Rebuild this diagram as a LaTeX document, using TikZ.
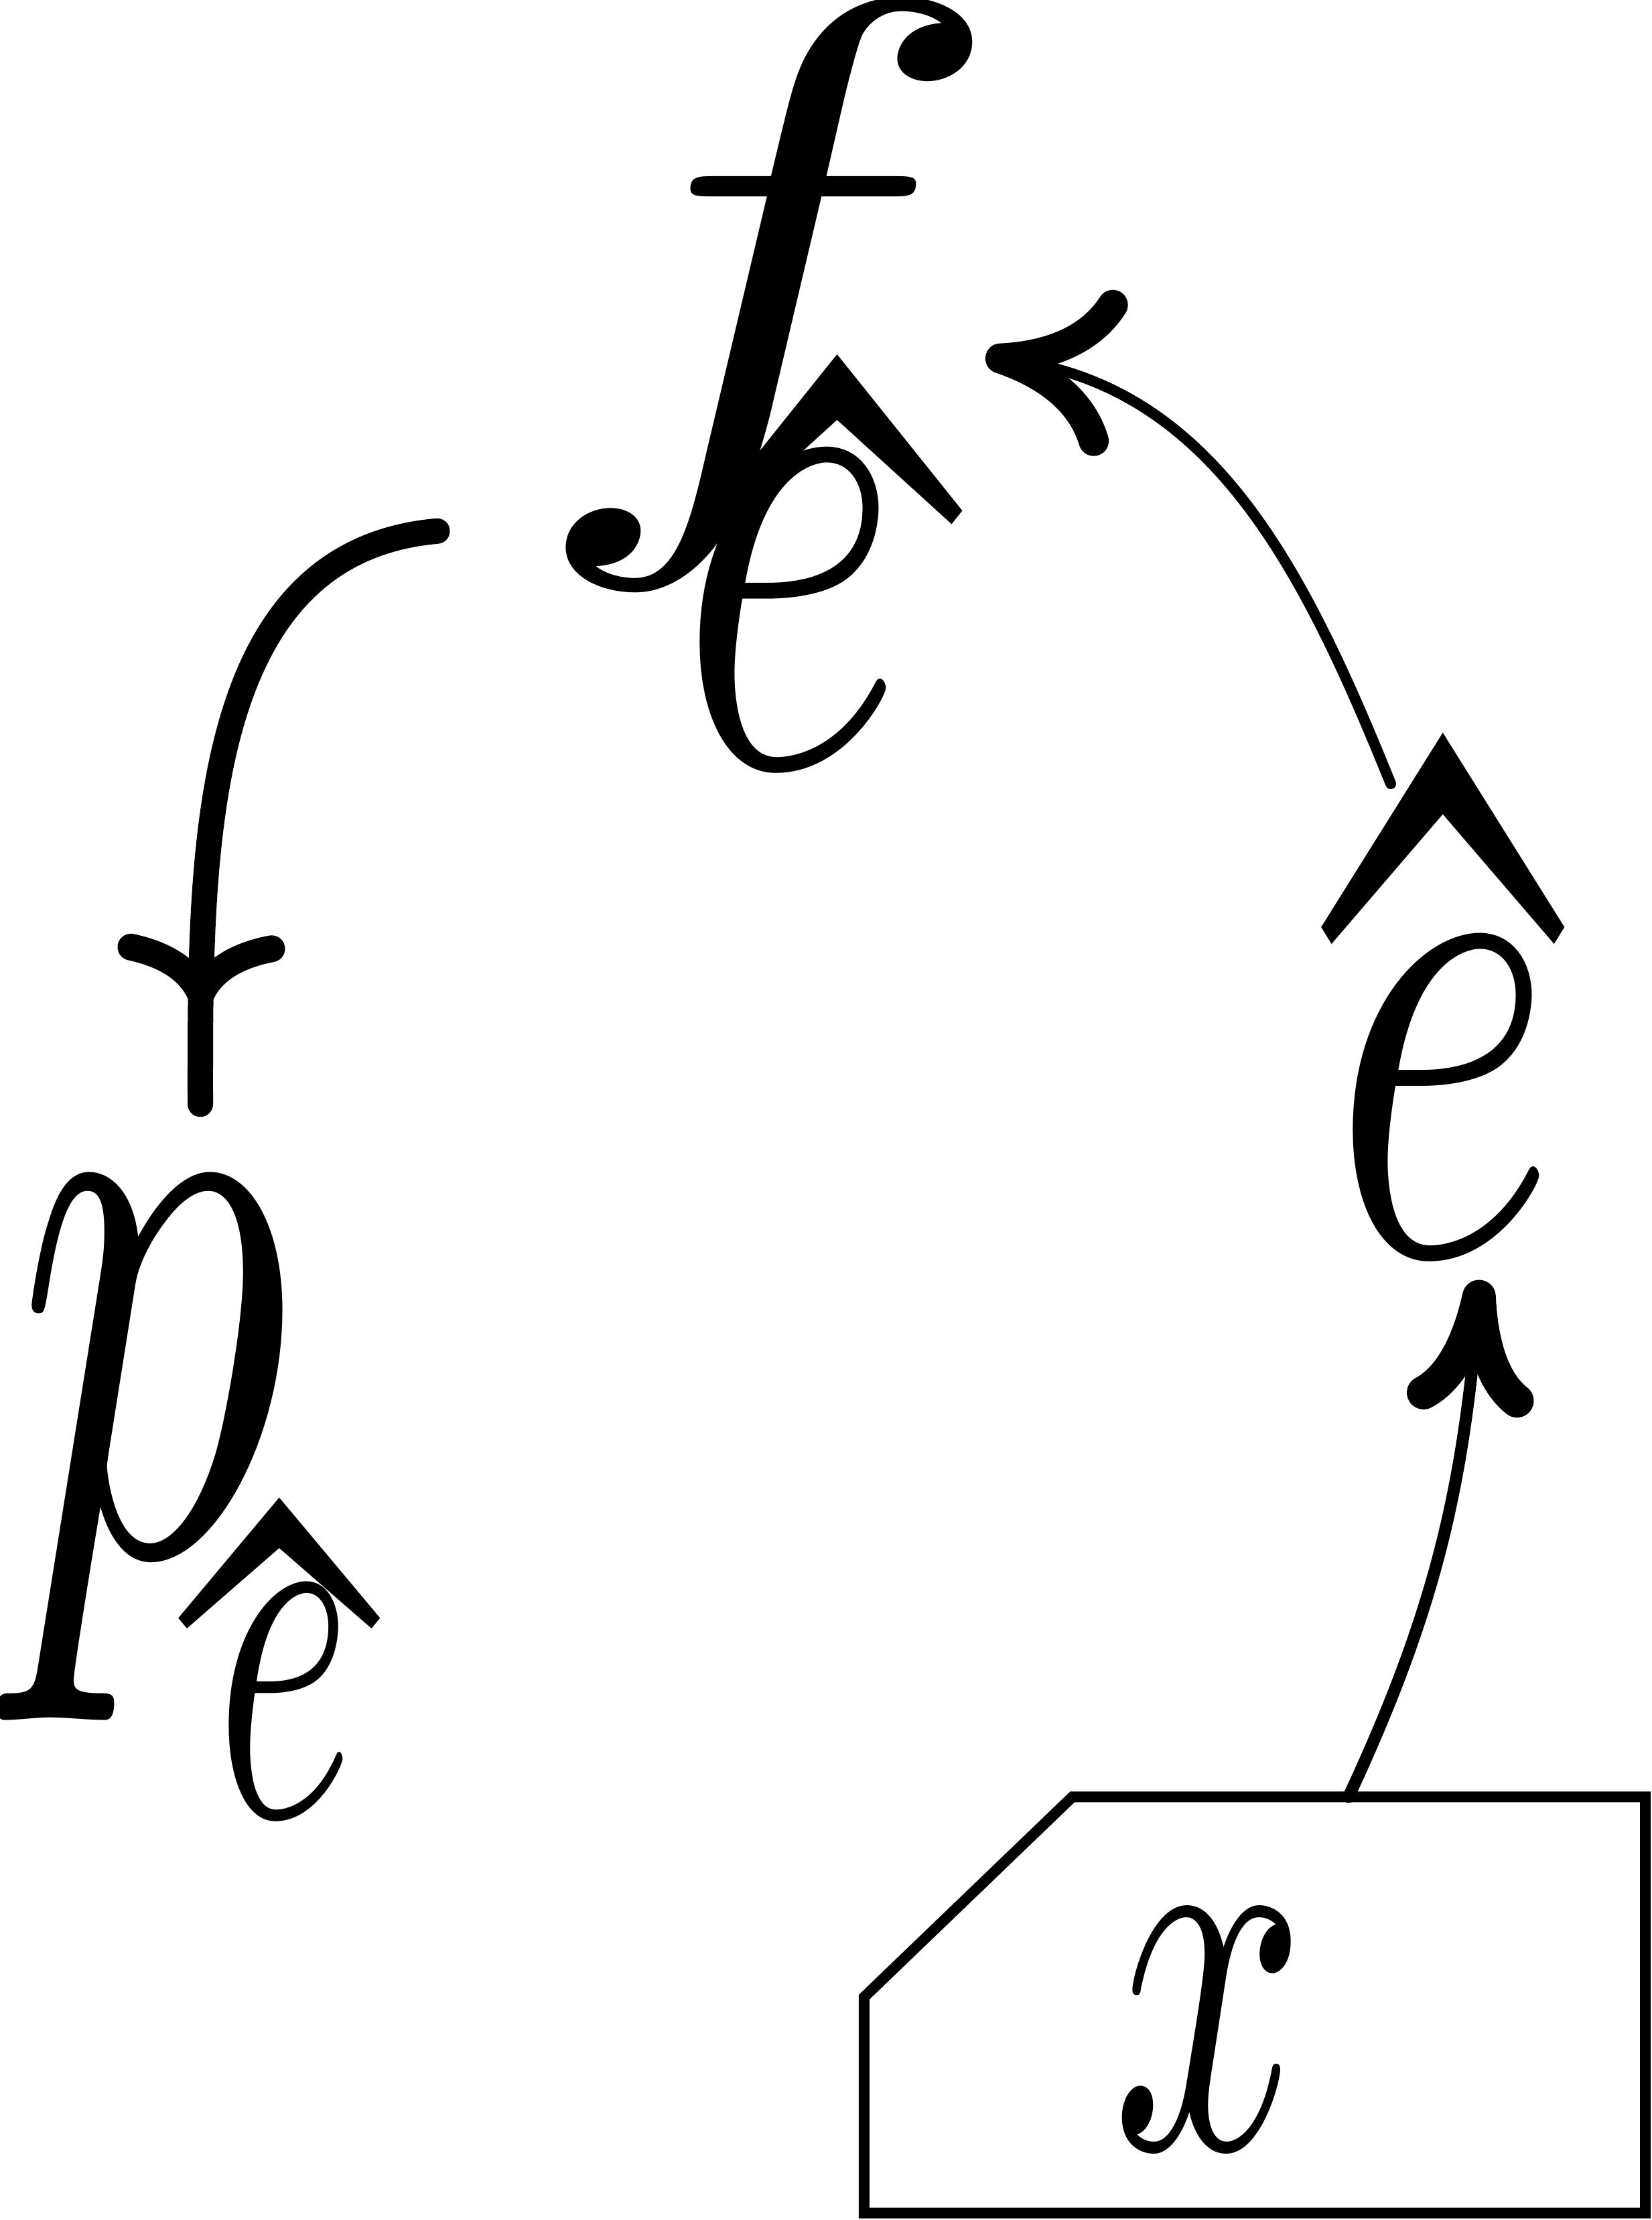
\documentclass[tikz,border=0pt]{standalone}
\usetikzlibrary{arrows.meta,decorations.markings}
\begin{document}
\begin{tikzpicture}[>={Computer Modern Rightarrow[length=20mm,width=25mm,line width=4.5mm]},g/.style={inner sep=0pt},h/.style={inner sep=0pt,anchor=north},a/.style={line width=1.8mm,line cap=round,->}]
\useasboundingbox (0,0) rectangle (24.66,-33.14);
% glyphs
\node[g,xscale=34.6,yscale=27.8] (f) at (11.44,-4.40) {$f$};
\node[h,xscale=35,yscale=41] (fh) at (12.50,-5.01) {\symbol{"02C6}};
\node[g,xscale=20.6,yscale=30.6] (fe) at (11.80,-9.11) {$e$};
\node[h,xscale=34,yscale=51] (rh) at (21.54,-10.58) {\symbol{"02C6}};
\node[g,xscale=20.6,yscale=30.8] (re) at (21.55,-16.38) {$e$};
\node[g,xscale=23.2,yscale=36.6] (p) at (2.28,-21.67) {$p$};
\node[h,xscale=28.2,yscale=31.6] (ph) at (4.17,-22.14) {\symbol{"02C6}};
\node[g,xscale=12.6,yscale=22.5] (pe) at (4.25,-25.40) {$e$};
% box
\node[minimum width=11.65cm,minimum height=6.2cm] (bx) at (18.73,-29.93) {};
\node[g,xscale=14.4,yscale=23.3] (x) at (18.05,-30.30) {$x$};
\draw[line width=1.6mm] ([yshift=-2.99cm]bx.north west) -- ([xshift=3.11cm]bx.north west) -- (bx.north east) -- (bx.south east) -- (bx.south west) -- cycle;
% arrows
\draw[a,-{Computer Modern Rightarrow[length=20mm,width=19mm,line width=5mm]}] ([xshift=1.4cm]bx.north) to[out=65,in=265] ([shift={(0.55,-0.18)}]re.south);
\draw[a,line width=1.6mm] ([shift={(-0.78,-1.12)}]rh.north) to[out=112,in=-8] ([shift={(-1.11,-0.31)}]fh.north east);
\draw[line width=3.8mm,line cap=round,postaction={decorate},decoration={markings,mark=at position 0.86 with {\arrow{Computer Modern Rightarrow[length=11mm,width=25mm,line width=4mm]}}}] ([shift={(-1.04,1.01)}]f.south west) to[out=185,in=90] ([shift={(0.71,0.91)}]p.north);
\end{tikzpicture}
\end{document}
